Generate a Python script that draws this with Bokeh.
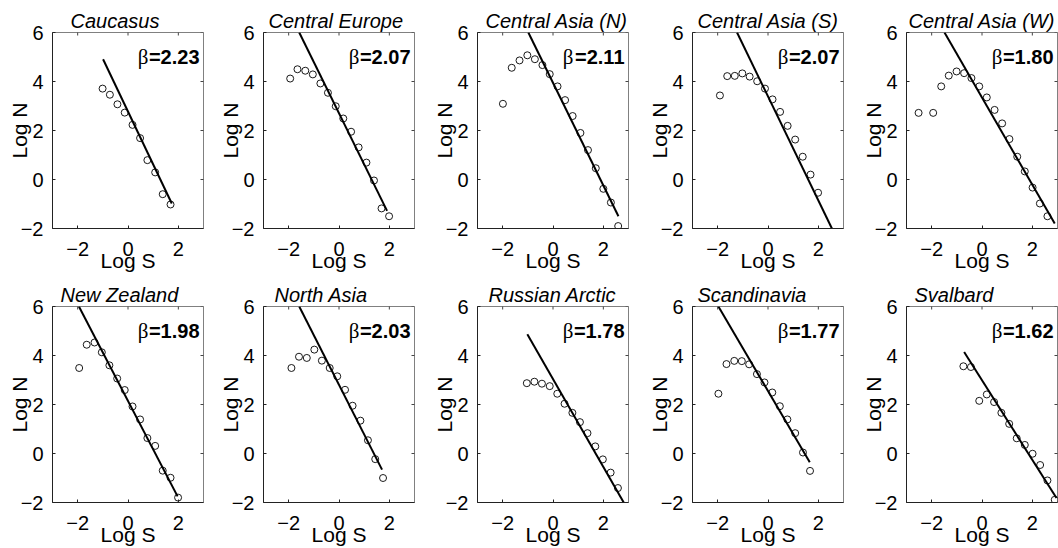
import math
from bokeh.plotting import figure
from bokeh.layouts import gridplot
from bokeh.models import Label, Range1d, FixedTicker
from bokeh.embed import file_html
from bokeh.resources import INLINE

# ---------------- data ----------------
regions = ["Caucasus", "Central Europe", "Central Asia (N)", "Central Asia (S)",
           "Central Asia (W)", "New Zealand", "North Asia", "Russian Arctic",
           "Scandinavia", "Svalbard"]
betas = ["2.23", "2.07", "2.11", "2.07", "1.80", "1.98", "2.03", "1.78", "1.77", "1.62"]

caucasus_x = [-1.01, -0.72, -0.42, -0.13, 0.18, 0.48, 0.77, 1.08, 1.38, 1.69]
caucasus_y = [3.71, 3.46, 3.07, 2.73, 2.23, 1.69, 0.79, 0.29, -0.60, -1.02]
caucasus_fit_x = [-0.99, 1.74]
caucasus_fit_y = [4.91, -0.98]

ceurope_x = [-1.94, -1.65, -1.34, -1.04, -0.74, -0.44, -0.13, 0.17, 0.48, 0.78, 1.09, 1.39, 1.69, 1.99]
ceurope_y = [4.12, 4.50, 4.44, 4.29, 3.92, 3.54, 2.99, 2.49, 1.95, 1.31, 0.69, -0.04, -1.18, -1.50]
ceurope_fit_x = [-1.58, 1.91]
ceurope_fit_y = [6.0, -1.28]

casia_n_x = [-1.99, -1.64, -1.33, -1.02, -0.72, -0.42, -0.13, 0.18, 0.48, 0.78, 1.09, 1.39, 1.70, 2.00, 2.30, 2.59]
casia_n_y = [3.09, 4.56, 4.86, 5.07, 4.91, 4.67, 4.30, 3.80, 3.24, 2.59, 1.90, 1.20, 0.46, -0.38, -0.94, -1.90]
casia_n_fit_x = [-0.98, 2.60]
casia_n_fit_y = [6.0, -1.50]

casia_s_x = [-1.91, -1.62, -1.32, -1.02, -0.73, -0.43, -0.12, 0.18, 0.48, 0.78, 1.08, 1.38, 1.69, 1.99]
casia_s_y = [3.43, 4.22, 4.23, 4.33, 4.20, 4.01, 3.71, 3.27, 2.76, 2.19, 1.63, 0.93, 0.20, -0.54]
casia_s_fit_x = [-1.23, 2.54]
casia_s_fit_y = [6.0, -2.0]

casia_w_x = [-2.52, -1.94, -1.62, -1.32, -1.01, -0.71, -0.42, -0.11, 0.19, 0.50, 0.80, 1.09, 1.40, 1.70, 2.01, 2.30, 2.60]
casia_w_y = [2.72, 2.72, 3.80, 4.24, 4.41, 4.34, 4.14, 3.80, 3.35, 2.84, 2.29, 1.65, 0.93, 0.33, -0.33, -0.98, -1.50]
casia_w_fit_x = [-1.49, 2.89]
casia_w_fit_y = [6.0, -1.80]

nzealand_x = [-1.94, -1.64, -1.33, -1.04, -0.74, -0.43, -0.13, 0.18, 0.48, 0.77, 1.08, 1.38, 1.69, 1.99]
nzealand_y = [3.49, 4.44, 4.53, 4.13, 3.60, 3.06, 2.59, 1.92, 1.39, 0.63, 0.31, -0.70, -0.99, -1.80]
nzealand_fit_x = [-1.95, 1.97]
nzealand_fit_y = [6.0, -1.75]

nasia_x = [-1.89, -1.59, -1.28, -0.98, -0.68, -0.37, -0.07, 0.24, 0.54, 0.85, 1.15, 1.44, 1.75]
nasia_y = [3.49, 3.95, 3.90, 4.24, 3.79, 3.49, 3.15, 2.60, 1.95, 1.34, 0.54, -0.23, -1.00]
nasia_fit_x = [-1.58, 1.71]
nasia_fit_y = [6.0, -0.66]

rarctic_x = [-1.04, -0.74, -0.44, -0.13, 0.17, 0.46, 0.77, 1.07, 1.37, 1.68, 1.98, 2.29, 2.58]
rarctic_y = [2.87, 2.93, 2.85, 2.75, 2.44, 2.03, 1.66, 1.28, 0.83, 0.29, -0.24, -0.78, -1.41]
rarctic_fit_x = [-1.02, 2.81]
rarctic_fit_y = [4.87, -2.0]

scand_x = [-1.97, -1.65, -1.34, -1.04, -0.75, -0.44, -0.14, 0.17, 0.47, 0.77, 1.08, 1.39, 1.67]
scand_y = [2.44, 3.65, 3.78, 3.77, 3.64, 3.24, 2.90, 2.49, 1.93, 1.39, 0.83, 0.04, -0.71]
scand_fit_x = [-1.97, 1.66]
scand_fit_y = [6.0, -0.36]

svalbard_x = [-0.74, -0.44, -0.11, 0.19, 0.48, 0.77, 1.08, 1.38, 1.70, 2.01, 2.31, 2.60, 2.89]
svalbard_y = [3.56, 3.53, 2.15, 2.41, 2.10, 1.66, 1.21, 0.62, 0.35, -0.01, -0.47, -1.10, -1.89]
svalbard_fit_x = [-0.71, 2.96]
svalbard_fit_y = [4.14, -1.82]

x_ticks = [-2, 0, 2]
x_tick_labels = ["\u22122", "0", "2"]
y_ticks = [-2, 0, 2, 4, 6]
y_tick_labels = ["\u22122", "0", "2", "4", "6"]
x_label = "Log S"
y_label = "Log N"

points = [(caucasus_x, caucasus_y), (ceurope_x, ceurope_y), (casia_n_x, casia_n_y),
          (casia_s_x, casia_s_y), (casia_w_x, casia_w_y), (nzealand_x, nzealand_y),
          (nasia_x, nasia_y), (rarctic_x, rarctic_y), (scand_x, scand_y),
          (svalbard_x, svalbard_y)]
fits = [(caucasus_fit_x, caucasus_fit_y), (ceurope_fit_x, ceurope_fit_y),
        (casia_n_fit_x, casia_n_fit_y), (casia_s_fit_x, casia_s_fit_y),
        (casia_w_fit_x, casia_w_fit_y), (nzealand_fit_x, nzealand_fit_y),
        (nasia_fit_x, nasia_fit_y), (rarctic_fit_x, rarctic_fit_y),
        (scand_fit_x, scand_fit_y), (svalbard_fit_x, svalbard_fit_y)]

# ---------------- style / layout ----------------
FONT = "Liberation Sans"
FRAME_W, FRAME_H = 151, 196
BORDER_L, BORDER_T = 52, 32
COL_W = [211, 214, 215, 214, 204]
ROW_H = [274, 274]
TITLE_DX = [18, 5, 8, 5, 2, 8, 11, 11, 5, 8]
XLAB_STANDOFF = [-10, -10]


def make_panel(i):
    r, c = divmod(i, 5)
    w, h = COL_W[c], ROW_H[r]
    p = figure(width=w, height=h, x_range=Range1d(-3, 3), y_range=Range1d(-2, 6),
               output_backend="svg", toolbar_location=None, tools="",
               min_border_left=BORDER_L, min_border_right=w - BORDER_L - FRAME_W,
               min_border_top=BORDER_T, min_border_bottom=h - BORDER_T - FRAME_H,
               background_fill_color="white", border_fill_color="white")
    p.grid.visible = False
    p.outline_line_color = "#808080"
    p.outline_line_width = 1

    p.title.text = regions[i]
    p.title.align = "left"
    p.title.offset = TITLE_DX[i]
    p.title.standoff = 1
    p.title.text_font = FONT
    p.title.text_font_size = "20px"
    p.title.text_font_style = "italic"
    p.title.text_color = "black"

    xa = p.xaxis[0]
    ya = p.yaxis[0]
    xa.ticker = FixedTicker(ticks=x_ticks)
    ya.ticker = FixedTicker(ticks=y_ticks)
    xa.major_label_overrides = dict(zip(x_ticks, x_tick_labels))
    ya.major_label_overrides = dict(zip(y_ticks, y_tick_labels))
    xa.axis_label = x_label
    ya.axis_label = y_label
    xa.axis_label_standoff = XLAB_STANDOFF[r]
    ya.axis_label_standoff = -13
    for ax, st in ((xa, 13), (ya, 9)):
        ax.major_label_text_font = FONT
        ax.major_label_text_font_size = "20px"
        ax.major_label_text_color = "black"
        ax.major_label_standoff = st
        ax.axis_label_text_font = FONT
        ax.axis_label_text_font_size = "21px"
        ax.axis_label_text_font_style = "normal"
        ax.axis_label_text_color = "black"
        ax.major_tick_in = 3
        ax.major_tick_out = 0
        ax.major_tick_line_color = "#222222"
        ax.minor_tick_line_color = None
        ax.axis_line_color = "#222222"
        ax.axis_line_width = 1

    x0, x1 = p.x_range.start, p.x_range.end
    y0, y1 = p.y_range.start, p.y_range.end

    # inward tick marks on the top and right frame edges (half clipped by the frame)
    p.scatter(x_ticks, [y1] * len(x_ticks), marker="dash", angle=math.pi / 2,
              size=6, line_color="#444444", line_width=1)
    p.scatter([x1] * len(y_ticks), y_ticks, marker="dash",
              size=6, line_color="#444444", line_width=1)

    px, py = points[i]
    fx, fy = fits[i]
    p.scatter(px, py, marker="circle", size=7, fill_color=None,
              line_color="black", line_width=0.9)
    p.line(fx, fy, line_color="black", line_width=2)

    p.add_layout(Label(x=x1, y=y1, x_offset=-4, y_offset=-24.5, text="=" + betas[i],
                       text_font=FONT, text_font_size="20px", text_font_style="bold",
                       text_align="right", text_baseline="alphabetic", text_color="black"))
    p.add_layout(Label(x=x1, y=y1, x_offset=-55, y_offset=-24.5, text="\u03b2",
                       text_font="Liberation Serif", text_font_size="21px",
                       text_align="right", text_baseline="alphabetic", text_color="black"))
    return p


panels = [make_panel(i) for i in range(10)]
grid = gridplot([panels[:5], panels[5:]], toolbar_location=None)

open("out.html", "w").write(file_html(grid, INLINE))
